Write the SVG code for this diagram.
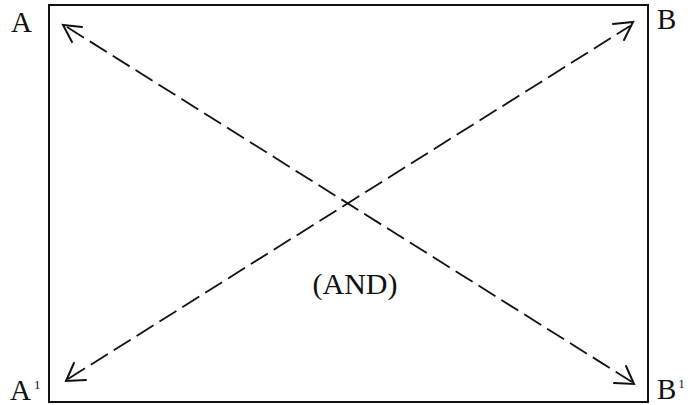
<svg xmlns="http://www.w3.org/2000/svg" width="688" height="405" viewBox="0 0 688 405">
<style>
.lbl{font-family:"Liberation Serif","Times New Roman",serif;font-size:29px;fill:#111}
.sup{font-size:13px}
.ln{stroke:#111;stroke-width:1.8;fill:none;stroke-dasharray:20 7}
.hd{stroke:#111;stroke-width:2;fill:none;stroke-linecap:round;stroke-linejoin:miter}
</style>
<rect width="688" height="405" fill="#fff"/>
<g id="frame"><rect x="49" y="5" width="599" height="397" fill="none" stroke="#111" stroke-width="2"/></g>
<g id="A"><text class="lbl" x="11" y="32">A</text></g>
<g id="B"><text class="lbl" x="657" y="29">B</text></g>
<g id="A1"><text class="lbl" x="10" y="400">A<tspan class="sup" dx="3" dy="-11">1</tspan></text></g>
<g id="B1"><text class="lbl" x="657" y="399">B<tspan class="sup" dx="2" dy="-11">1</tspan></text></g>
<g id="AND"><text class="lbl" x="355" y="294" text-anchor="middle" style="font-size:30px">(AND)</text></g>
<g id="connectors">
<line class="ln" x1="67" y1="27" x2="632" y2="382"/>
<line class="ln" x1="68" y1="379" x2="630" y2="26"/>
<polyline class="hd" points="72,42 63,25 82,27"/>
<polyline class="hd" points="613,24 633,22 624,40"/>
<polyline class="hd" points="74,363 66,381 86,380"/>
<polyline class="hd" points="626,366 634,384 614,383"/>
</g>
</svg>
